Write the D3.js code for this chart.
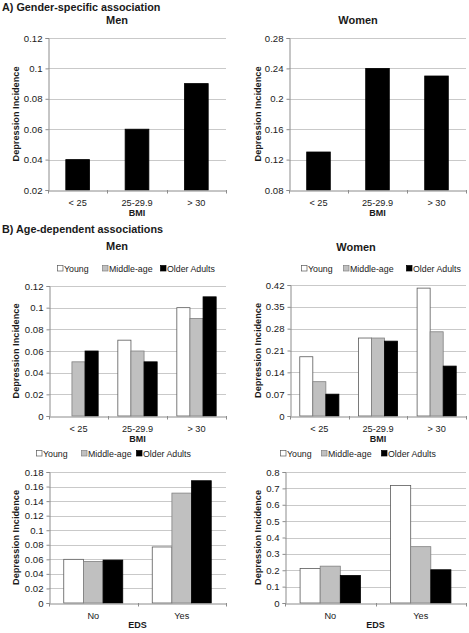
<!DOCTYPE html>
<html><head><meta charset="utf-8">
<script src="https://cdn.jsdelivr.net/npm/d3@7/dist/d3.min.js"></script>
<style>
html,body{margin:0;padding:0;background:#fff;}
svg{display:block;font-family:"Liberation Sans",Arial,sans-serif;}
</style></head>
<body>
<svg id="c" width="469" height="633"></svg>
<script>
// ---- data ----
const bmiCats = ["< 25", "25-29.9", "> 30"];
const edsCats = ["No", "Yes"];
const ageGroups = ["Young", "Middle-age", "Older Adults"];

const menOverall = [0.04, 0.06, 0.09];
const womenOverall = [0.13, 0.24, 0.23];

const menBmiYoung = [null, 0.07, 0.10];
const menBmiMiddle = [0.05, 0.06, 0.09];
const menBmiOlder = [0.06, 0.05, 0.11];

const womenBmiYoung = [0.19, 0.25, 0.41];
const womenBmiMiddle = [0.11, 0.25, 0.27];
const womenBmiOlder = [0.07, 0.24, 0.16];

const menEdsYoung = [0.060, 0.077];
const menEdsMiddle = [0.057, 0.151];
const menEdsOlder = [0.059, 0.168];

const womenEdsYoung = [0.211, 0.718];
const womenEdsMiddle = [0.225, 0.344];
const womenEdsOlder = [0.168, 0.203];

const ticksMenOverall = [0.02, 0.04, 0.06, 0.08, 0.1, 0.12];
const ticksWomenOverall = [0.08, 0.12, 0.16, 0.2, 0.24, 0.28];
const ticksMenBmi = [0, 0.02, 0.04, 0.06, 0.08, 0.1, 0.12];
const ticksWomenBmi = [0, 0.07, 0.14, 0.21, 0.28, 0.35, 0.42];
const ticksMenEds = [0, 0.02, 0.04, 0.06, 0.08, 0.1, 0.12, 0.14, 0.16, 0.18];
const ticksWomenEds = [0, 0.1, 0.2, 0.3, 0.4, 0.5, 0.6, 0.7, 0.8];

const yTitle = "Depression Incidence";

// ---- style ----
const fills = ["#ffffff", "#c0c0c0", "#000000"];
const strokes = ["#5a5a5a", "#808080", "#000000"];
const gridColor = "#c9c9c9";
const axisColor = "#8c8c8c";
const textColor = "#1a1a1a";
const FONT = "Liberation Sans, Arial, sans-serif";

const svg = d3.select("#c");

function panel(o) {
  const g = svg.append("g");
  const y = d3.scaleLinear().domain([o.ticks[0], o.ticks[o.ticks.length - 1]]).range([o.bottom, o.top]);
  const x = d3.scaleBand().domain(o.cats).range([o.left, o.right]).paddingInner(0).paddingOuter(0);
  // grid
  g.selectAll(".grid").data(o.ticks.slice(1)).enter().append("line")
    .attr("x1", o.left).attr("x2", o.right)
    .attr("y1", d => Math.round(y(d)) + 0.5).attr("y2", d => Math.round(y(d)) + 0.5)
    .attr("stroke", gridColor).attr("stroke-width", 1);
  // bars
  const n = o.series.length;
  const bw = x.bandwidth() / (n + 1.5);
  o.series.forEach((vals, si) => {
    g.selectAll(".b" + si).data(vals.map((v, i) => ({ v, c: o.cats[i] })).filter(d => d.v !== null))
      .enter().append("rect")
      .attr("x", d => x(d.c) + 0.75 * bw + si * bw)
      .attr("width", bw)
      .attr("y", d => y(d.v))
      .attr("height", d => o.bottom - y(d.v))
      .attr("fill", n === 1 ? "#000" : fills[si])
      .attr("stroke", n === 1 ? "#000" : strokes[si])
      .attr("stroke-width", 0.8);
  });
  // y axis
  const ya = g.append("g").attr("transform", `translate(${Math.round(o.left) + 0.5},0)`)
    .call(d3.axisLeft(y).tickValues(o.ticks).tickFormat(d3.format("~g")).tickSize(3).tickPadding(3));
  ya.select(".domain").attr("stroke", axisColor);
  ya.selectAll(".tick line").attr("stroke", axisColor);
  ya.selectAll("text").attr("fill", textColor).style("font-size", "9.6px").style("font-family", FONT);
  // x axis
  const xa = g.append("g").attr("transform", `translate(0,${Math.round(o.bottom) + 0.5})`)
    .call(d3.axisBottom(x).tickSize(0).tickPadding(9));
  xa.select(".domain").attr("stroke", axisColor);
  xa.selectAll("text").attr("fill", textColor).style("font-size", "9.2px").style("font-family", FONT);
  // category boundary ticks
  const bounds = o.cats.map(c => x(c)).concat([o.right]);
  g.selectAll(".xt").data(bounds).enter().append("line")
    .attr("x1", d => Math.round(d) + 0.5).attr("x2", d => Math.round(d) + 0.5)
    .attr("y1", o.bottom).attr("y2", o.bottom + 3.5)
    .attr("stroke", axisColor);
  // x title
  g.append("text").attr("x", (o.left + o.right) / 2).attr("y", o.bottom + o.xTitleOff)
    .attr("text-anchor", "middle").attr("font-weight", "bold").attr("font-size", 9)
    .attr("fill", textColor).text(o.xTitle);
  // y title
  g.append("text").attr("transform", `translate(${o.yTitleX},${(o.top + o.bottom) / 2}) rotate(-90)`)
    .attr("text-anchor", "middle").attr("font-weight", "bold").attr("font-size", 9.2)
    .attr("dy", "0.35em").attr("fill", textColor).text(yTitle);
  // chart title
  if (o.title) {
    g.append("text").attr("x", o.titleX).attr("y", o.titleY)
      .attr("text-anchor", "middle").attr("font-weight", "bold").attr("font-size", 11)
      .attr("fill", textColor).text(o.title);
  }
  // legend
  if (o.legendXs) {
    ageGroups.forEach((name, i) => {
      const lx = o.legendXs[i];
      g.append("rect").attr("x", lx + 0.5).attr("y", o.legendY - 6.5).attr("width", 5.5).attr("height", 5.5)
        .attr("fill", fills[i]).attr("stroke", strokes[i]).attr("stroke-width", 0.7);
      g.append("text").attr("x", lx + 7).attr("y", o.legendY).attr("font-size", 8.8)
        .attr("fill", textColor).text(name);
    });
  }
}

// section headers
svg.append("text").attr("x", 2).attr("y", 11).attr("font-weight", "bold").attr("font-size", 10.8)
  .attr("fill", textColor).text("A) Gender-specific association");
svg.append("text").attr("x", 2).attr("y", 233).attr("font-weight", "bold").attr("font-size", 10.8)
  .attr("fill", textColor).text("B) Age-dependent associations");

panel({ cats: bmiCats, series: [menOverall], ticks: ticksMenOverall,
  left: 48, right: 226, top: 38, bottom: 190, xTitle: "BMI", xTitleOff: 26, yTitleX: 16,
  title: "Men", titleX: 117, titleY: 24 });
panel({ cats: bmiCats, series: [womenOverall], ticks: ticksWomenOverall,
  left: 289, right: 466, top: 38, bottom: 190, xTitle: "BMI", xTitleOff: 26, yTitleX: 258,
  title: "Women", titleX: 358, titleY: 24 });
panel({ cats: bmiCats, series: [menBmiYoung, menBmiMiddle, menBmiOlder], ticks: ticksMenBmi,
  left: 49, right: 226, top: 286, bottom: 416, xTitle: "BMI", xTitleOff: 26, yTitleX: 16,
  title: "Men", titleX: 117, titleY: 250, legendY: 272, legendXs: [57, 102, 160] });
panel({ cats: bmiCats, series: [womenBmiYoung, womenBmiMiddle, womenBmiOlder], ticks: ticksWomenBmi,
  left: 290, right: 466, top: 285, bottom: 416, xTitle: "BMI", xTitleOff: 26, yTitleX: 258,
  title: "Women", titleX: 356, titleY: 251, legendY: 272, legendXs: [301, 343, 406] });
panel({ cats: edsCats, series: [menEdsYoung, menEdsMiddle, menEdsOlder], ticks: ticksMenEds,
  left: 49, right: 226, top: 472, bottom: 603, xTitle: "EDS", xTitleOff: 25, yTitleX: 16,
  legendY: 457, legendXs: [36, 81, 136] });
panel({ cats: edsCats, series: [womenEdsYoung, womenEdsMiddle, womenEdsOlder], ticks: ticksWomenEds,
  left: 285, right: 466, top: 472, bottom: 603, xTitle: "EDS", xTitleOff: 25, yTitleX: 258,
  legendY: 457, legendXs: [280, 321, 381] });
</script>
</body></html>
